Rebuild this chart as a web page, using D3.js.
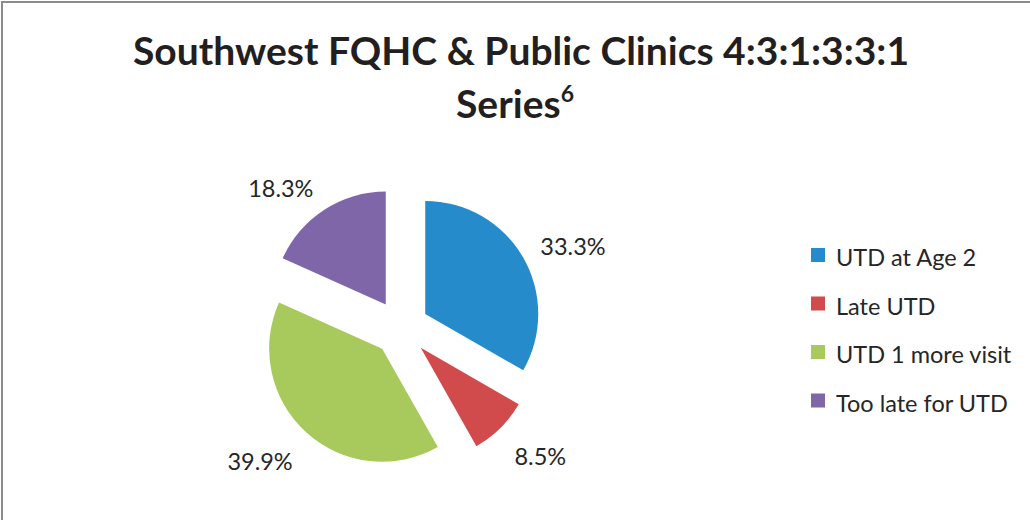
<!DOCTYPE html>
<html>
<head>
<meta charset="utf-8">
<script src="https://cdn.jsdelivr.net/npm/d3@7"></script>
<style>
  html, body { margin: 0; padding: 0; background: #fff; }
  svg { display: block; }
</style>
</head>
<body>
<svg id="chart" width="1030" height="520"></svg>
<script>
// ---- data ----
const titleLine1 = "Southwest FQHC & Public Clinics 4:3:1:3:3:1";
const titleLine2 = "Series";
const titleSup = "6";
const categories = ["UTD at Age 2", "Late UTD", "UTD 1 more visit", "Too late for UTD"];
const values = [33.3, 8.5, 39.9, 18.3];
const colors = ["#268BCA", "#D14B4C", "#A8C95C", "#7E66A9"];

// ---- layout ----
const W = 1030, H = 520;
const cx = 401, cy = 328, R = 113, explode = 28;
const font = "Lato, 'Open Sans', sans-serif";
const textColor = "#262626";

const svg = d3.select("#chart");

// frame
svg.append("rect")
  .attr("x", 2).attr("y", 2)
  .attr("width", W + 20).attr("height", H + 20)
  .attr("fill", "#fff")
  .attr("stroke", "#8c8c8c").attr("stroke-width", 2);

// title
svg.append("text")
  .attr("x", 521).attr("y", 65)
  .attr("text-anchor", "middle")
  .attr("font-family", font).attr("font-weight", 700)
  .attr("font-size", 39).attr("fill", "#231F20")
  .text(titleLine1);

const t2 = svg.append("text")
  .attr("x", 515).attr("y", 118)
  .attr("text-anchor", "middle")
  .attr("font-family", font).attr("font-weight", 700)
  .attr("font-size", 39).attr("fill", "#231F20");
t2.append("tspan").text(titleLine2);
t2.append("tspan").attr("font-size", 23).attr("dy", -16).text(titleSup);

// pie
const pie = d3.pie().sort(null).value(d => d);
const arcs = pie(values);
const arcGen = d3.arc().innerRadius(0).outerRadius(R);

const g = svg.append("g").attr("transform", `translate(${cx},${cy})`);

arcs.forEach((a, i) => {
  const mid = (a.startAngle + a.endAngle) / 2;
  const dx = Math.sin(mid), dy = -Math.cos(mid);
  const ox = dx * explode, oy = dy * explode;
  g.append("path")
    .attr("d", arcGen(a))
    .attr("transform", `translate(${ox},${oy})`)
    .attr("fill", colors[i]);

  // label outside end
  const ax = ox + dx * R, ay = oy + dy * R;
  const lx = ax + dx * 20;
  const ly = ay + dy * 32 + 14;
  g.append("text")
    .attr("x", lx).attr("y", ly)
    .attr("text-anchor", dx >= 0 ? "start" : "end")
    .attr("font-family", font).attr("font-size", 23.5)
    .attr("fill", textColor)
    .text(d3.format(".1f")(values[i]) + "%");
});

// legend
const legendY = d3.scalePoint().domain(categories).range([255.5, 401]);
const lg = svg.append("g");
categories.forEach((c, i) => {
  const y = legendY(c);
  lg.append("rect")
    .attr("x", 811).attr("y", y - 7.5)
    .attr("width", 14).attr("height", 14)
    .attr("fill", colors[i]);
  lg.append("text")
    .attr("x", 836).attr("y", y + 10.5)
    .attr("font-family", font).attr("font-size", 23.5)
    .attr("fill", textColor)
    .text(c);
});
</script>
</body>
</html>
